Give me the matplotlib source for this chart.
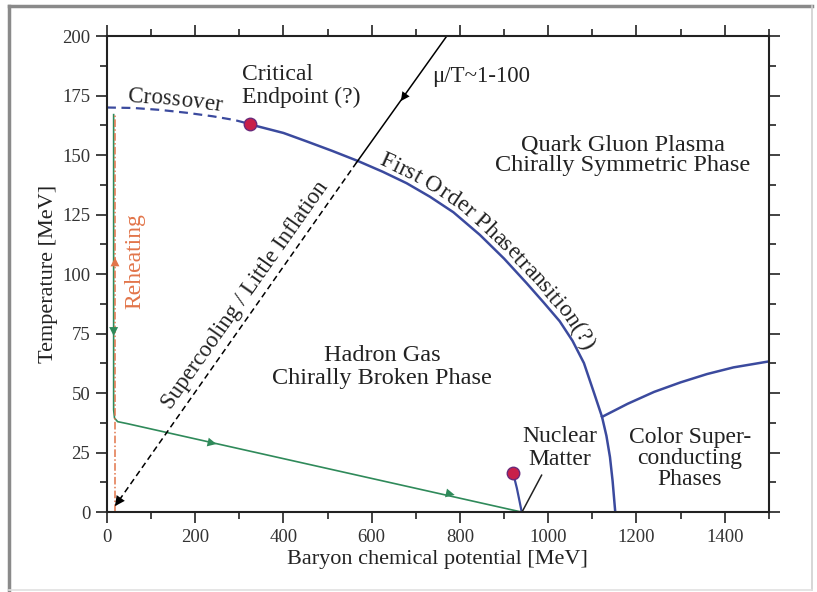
import numpy as np
import matplotlib
matplotlib.use('Agg')
import matplotlib.pyplot as plt
from matplotlib.font_manager import FontProperties
from matplotlib.lines import Line2D
from matplotlib.transforms import IdentityTransform

plt.rcParams['font.family'] = ['Liberation Serif', 'DejaVu Serif']

# phase boundaries (mu in MeV, T in MeV)
crossover_mu = [0, 60, 120, 180, 240, 290, 325]
crossover_T = [170, 169.8, 169, 167.8, 166.3, 164.7, 163]

first_order_mu = [325, 335, 400, 452, 510, 569, 625, 679, 732, 785, 845, 900, 951, 990,
                  1026, 1055, 1081, 1104, 1122, 1132, 1140, 1146, 1151, 1152]
first_order_T = [163, 162.4, 159.3, 155.8, 151.8, 147.5, 143, 138.2, 132.5, 126, 116.5, 106.5,
                 96.2, 88, 80.2, 72, 62.6, 50, 40, 32, 23.1, 13, 2.1, 0]

csc_mu = [1122, 1180, 1240, 1300, 1360, 1420, 1500]
csc_T = [40, 45.5, 50.5, 54.5, 58, 60.8, 63.3]

nuclear_mu = [921, 925, 929, 934, 940]
nuclear_T = [16, 13, 10, 5.5, 0]
nuclear_ptr_mu = [985, 942]
nuclear_ptr_T = [15.5, 0.5]

critical_pt = (325, 163)
nuclear_pt = (920, 16.4)

# cosmic trajectory (green) and reheating (orange)
green_mu = [15, 15, 17, 24, 45, 940]
green_T = [167, 43, 39.5, 38, 37.2, 0]
reheat_mu = [18, 18]
reheat_T = [0, 167]

# mu/T line: solid above the phase line, dashed below
line_solid_mu = [770, 566]
line_solid_T = [200, 147]
line_dash_mu = [566, 20]
line_dash_T = [147, 3]

fig = plt.figure(figsize=(8.17, 5.92), dpi=100)
ax = fig.add_axes([0.131, 0.135, 0.81, 0.804])
ax.set_xlim(0, 1500)
ax.set_ylim(0, 200)

blue = '#3b4a9e'
green = '#2f8a5a'
orange = '#e2754a'
txt = '#222222'

ax.plot(crossover_mu, crossover_T, color=blue, lw=1.6, ls=(0, (4, 2.5)))
ax.plot(first_order_mu, first_order_T, color=blue, lw=1.8, solid_joinstyle='round')
ax.plot(csc_mu, csc_T, color=blue, lw=1.8)
ax.plot(nuclear_mu, nuclear_T, color=blue, lw=1.6)
ax.plot(nuclear_ptr_mu, nuclear_ptr_T, color='#222222', lw=1.1)

ax.plot(green_mu, green_T, color=green, lw=1.2)
ax.plot(reheat_mu, reheat_T, color=orange, lw=1.1, ls=(0, (5, 1.5, 1, 1.5)))

ax.plot(line_solid_mu, line_solid_T, color='black', lw=1.1)
ax.plot(line_dash_mu, line_dash_T, color='black', lw=1.1, ls=(0, (4, 2.5)))

for p in [critical_pt, nuclear_pt]:
    ax.plot(p[0], p[1], 'o', ms=9, mfc='#c8204a', mec='#6a2a7a', mew=1.0, zorder=5)

def arrow(x0, y0, x1, y1, col, sc=16):
    ax.annotate('', xy=(x1, y1), xytext=(x0, y0),
                arrowprops=dict(arrowstyle='-|>', color=col, lw=0, mutation_scale=sc,
                                shrinkA=0, shrinkB=0))

arrow(15, 81, 15, 74, green)
arrow(222, 29.7, 248, 28.6, green)
arrow(762, 8.3, 788, 7.2, green)
arrow(18, 99, 18, 107, orange)
arrow(684, 177.4, 666, 172.7, 'black')
arrow(34, 6.7, 18, 2.5, 'black', sc=18)

# ticks and spines
ax.set_xticks(np.arange(0, 1401, 200))
ax.set_xticks(np.arange(0, 1501, 100), minor=True)
ax.set_yticks(np.arange(0, 201, 25))
ax.set_yticks(np.arange(0, 201, 12.5), minor=True)
ax.tick_params(which='both', direction='out', top=True, right=True, width=1.2,
               labelsize=13.5, colors='#222222', labelcolor='#333333')
ax.tick_params(which='major', length=8, pad=4)
ax.tick_params(which='minor', length=5)
for s in ax.spines.values():
    s.set_linewidth(1.5)
    s.set_color('#222222')

ax.set_xlabel('Baryon chemical potential [MeV]', fontsize=16, color=txt, labelpad=3)
ax.set_ylabel('Temperature [MeV]', fontsize=16, color=txt, labelpad=3)

# region labels
ax.text(306, 179, 'Critical\nEndpoint (?)', fontsize=17, color=txt, ha='left', va='center', linespacing=1.15)
ax.text(736, 183, u'\u03bc/T~1-100', fontsize=16.5, color=txt, ha='left', va='center')
ax.text(1169, 150, 'Quark Gluon Plasma\nChirally Symmetric Phase', fontsize=17.5, color=txt,
        ha='center', va='center', multialignment='center', linespacing=1.0)
ax.text(623, 61, 'Hadron Gas\nChirally Broken Phase', fontsize=17.5, color=txt,
        ha='center', va='center', multialignment='center', linespacing=1.1)
ax.text(1026, 27, 'Nuclear\nMatter', fontsize=17, color=txt,
        ha='center', va='center', multialignment='center', linespacing=1.1)
ax.text(1321, 22.7, 'Color Super-\nconducting\nPhases', fontsize=17, color=txt,
        ha='center', va='center', multialignment='center', linespacing=1.0)
ax.text(313, 91, 'Supercooling / Little Inflation', fontsize=16.5, color=txt,
        ha='center', va='center', rotation=54.8, rotation_mode='anchor')
ax.text(64, 105.5, 'Reheating', fontsize=17, color=orange, ha='center', va='center', rotation=90)

# text following a curve
renderer = fig.canvas.get_renderer()

def tw(s, fp):
    w, h, d = renderer.get_text_width_height_descent(s, fp, ismath=False)
    return w

def text_on_curve(label, xs, ys, start_x, offset, size):
    fp = FontProperties(family=['Liberation Serif', 'DejaVu Serif'], size=size)
    pts = ax.transData.transform(np.column_stack([xs, ys]))
    seg = np.hypot(np.diff(pts[:, 0]), np.diff(pts[:, 1]))
    cum = np.concatenate([[0], np.cumsum(seg)])
    s = np.interp(start_x, xs, cum)
    base = tw('xx', fp)
    for ch in label:
        adv = tw('x' + ch + 'x', fp) - base
        sc = s + adv / 2
        px = np.interp(sc, cum, pts[:, 0])
        py = np.interp(sc, cum, pts[:, 1])
        ax0, ay0 = np.interp(sc - 8, cum, pts[:, 0]), np.interp(sc - 8, cum, pts[:, 1])
        ax1, ay1 = np.interp(sc + 8, cum, pts[:, 0]), np.interp(sc + 8, cum, pts[:, 1])
        ang = np.arctan2(ay1 - ay0, ax1 - ax0)
        nx, ny = -np.sin(ang), np.cos(ang)
        if ch != ' ':
            fig.text(px + offset * nx, py + offset * ny, ch, transform=IdentityTransform(),
                     fontproperties=fp, color=txt, ha='center', va='baseline',
                     rotation=np.degrees(ang), rotation_mode='anchor')
        s += adv

text_on_curve('Crossover', crossover_mu, crossover_T, 46, 6, 16.5)
text_on_curve('First Order Phasetransition(?)', first_order_mu, first_order_T, 610, 5, 16.8)

# picture frame
fig.add_artist(Line2D([9 / 817, 9 / 817], [2 / 592, 586 / 592], transform=fig.transFigure, color='#8a8a8a', lw=2.5))
fig.add_artist(Line2D([9 / 817, 812 / 817], [586 / 592, 586 / 592], transform=fig.transFigure, color='#8a8a8a', lw=2.5))
fig.add_artist(Line2D([812 / 817, 812 / 817], [2 / 592, 586 / 592], transform=fig.transFigure, color='#d0d0d0', lw=1.2))
fig.add_artist(Line2D([9 / 817, 812 / 817], [2 / 592, 2 / 592], transform=fig.transFigure, color='#e0e0e0', lw=1.2))

fig.savefig('out.png', dpi=100)
